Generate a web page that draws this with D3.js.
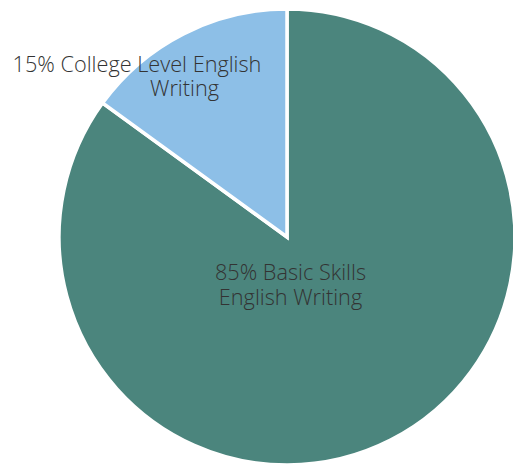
<!DOCTYPE html>
<html>
<head>
<meta charset="utf-8">
<script src="https://cdn.jsdelivr.net/npm/d3@7"></script>
<style>
  html, body { margin: 0; padding: 0; background: #fff; }
  svg { display: block; }
  text { font-family: "Open Sans", sans-serif; font-weight: 300; fill: #333; }
</style>
</head>
<body>
<svg id="chart" width="513" height="470"></svg>
<script>
// data
const categories = ["Basic Skills English Writing", "College Level English Writing"];
const shares = [85, 15];
const colors = ["#4b857d", "#8dbfe7"];
// label lines, one array per slice
const labelLines = [
  ["85% Basic Skills", "English Writing"],
  ["15% College Level English", "Writing"]
];

const width = 513, height = 470,
      cx = 287, cy = 237,
      radius = 228;

const svg = d3.select("#chart");
const g = svg.append("g").attr("transform", `translate(${cx},${cy})`);

const pie = d3.pie().sort(null).value(d => d.value);
const arcs = pie(categories.map((c, i) => ({ name: c, value: shares[i], color: colors[i], lines: labelLines[i] })));

const arc = d3.arc().innerRadius(0).outerRadius(radius);

g.selectAll("path.slice")
  .data(arcs)
  .join("path")
    .attr("class", "slice")
    .attr("d", arc)
    .attr("fill", d => d.data.color)
    .attr("stroke", "#fff")
    .attr("stroke-width", 3.5)
    .attr("stroke-linejoin", "miter");

// label placement (relative to centre), per slice line
const labelPos = [
  [[3.5, 43], [3.5, 68]],
  [[-150, -165], [-102.5, -141]]
];

// one text per slice, a tspan per line
g.selectAll("text.label")
  .data(arcs)
  .join("text")
    .attr("class", "label")
    .attr("text-anchor", "middle")
    .attr("font-size", 21.7)
  .selectAll("tspan")
  .data((d, i) => d.data.lines.map((line, j) => ({ line, pos: labelPos[i][j] })))
  .join("tspan")
    .attr("x", d => d.pos[0])
    .attr("y", d => d.pos[1])
    .text(d => d.line);
</script>
</body>
</html>
